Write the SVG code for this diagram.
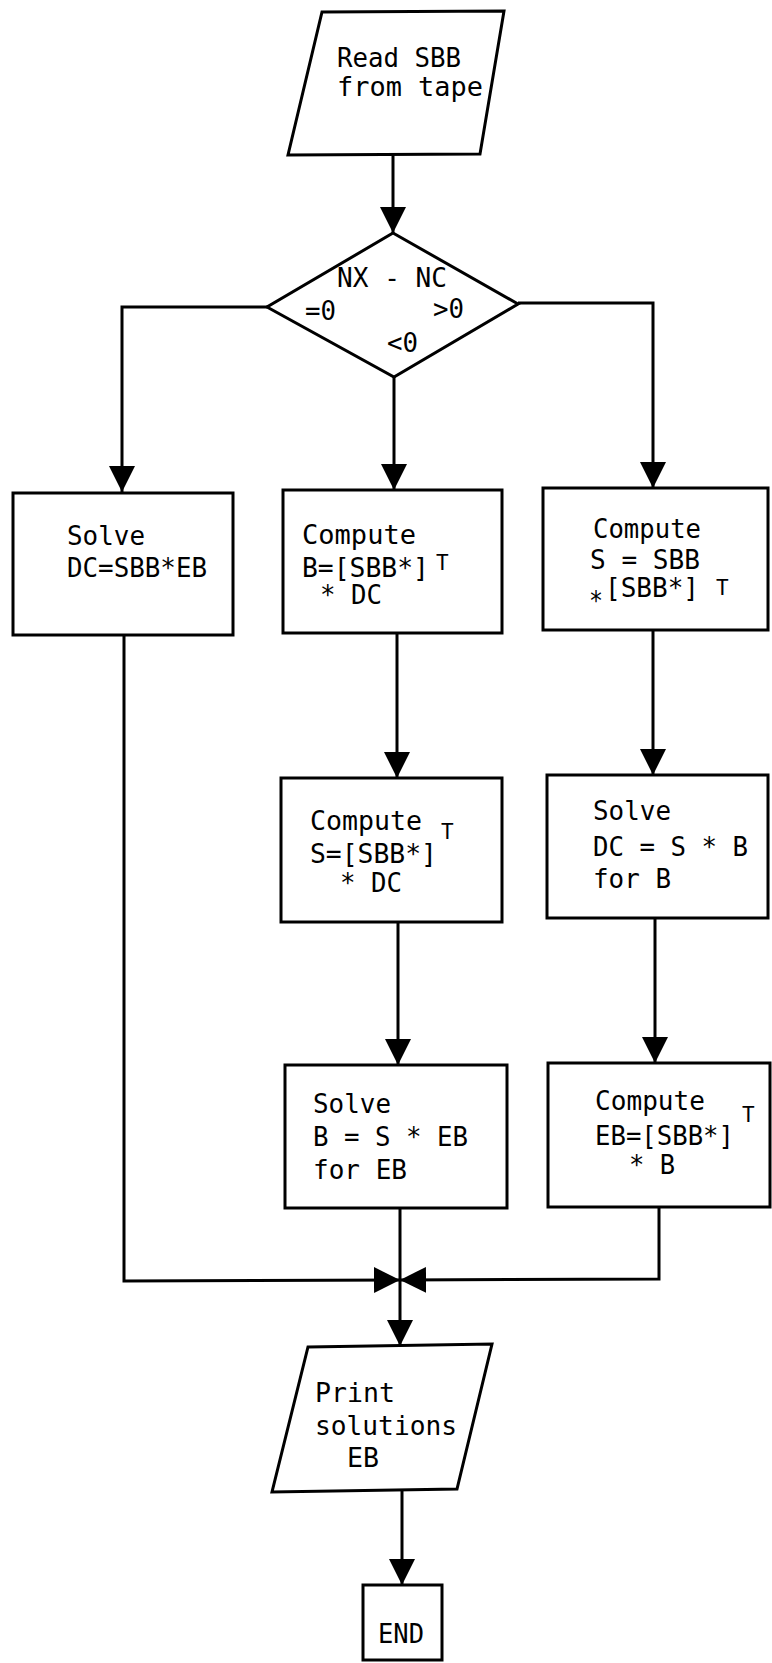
<svg xmlns="http://www.w3.org/2000/svg" width="772" height="1663" viewBox="0 0 772 1663">
<style>
.s{fill:#fff;stroke:#000;stroke-width:3;stroke-linejoin:miter}
.c{fill:none;stroke:#000;stroke-width:3}
text{font-family:"DejaVu Sans Mono","Liberation Mono",monospace;font-size:26px;fill:#000}
.sup{font-size:21px}
</style>
<defs>
<marker id="ah" markerUnits="userSpaceOnUse" markerWidth="28" markerHeight="28" refX="26" refY="13" orient="auto" viewBox="0 0 28 28">
<path d="M0,0 L26,13 L0,26 z" fill="#000"/>
</marker>
</defs>
<rect width="772" height="1663" fill="#fff"/>
<g id="connectors">
<line class="c" x1="393" y1="155" x2="393" y2="233" marker-end="url(#ah)"/>
<polyline class="c" points="267,307 122,307 122,492" marker-end="url(#ah)"/>
<line class="c" x1="394" y1="377" x2="394" y2="490" marker-end="url(#ah)"/>
<polyline class="c" points="518,303 653,303 653,488" marker-end="url(#ah)"/>
<line class="c" x1="397" y1="633" x2="397" y2="778" marker-end="url(#ah)"/>
<line class="c" x1="653" y1="630" x2="653" y2="775" marker-end="url(#ah)"/>
<line class="c" x1="398" y1="922" x2="398" y2="1065" marker-end="url(#ah)"/>
<line class="c" x1="655" y1="918" x2="655" y2="1063" marker-end="url(#ah)"/>
<polyline class="c" points="124,635 124,1281 400,1280" marker-end="url(#ah)"/>
<polyline class="c" points="659,1207 659,1279 400,1280" marker-end="url(#ah)"/>
<line class="c" x1="400" y1="1208" x2="400" y2="1346" marker-end="url(#ah)"/>
<line class="c" x1="402" y1="1490" x2="402" y2="1585" marker-end="url(#ah)"/>
</g>
<g id="read">
<polygon class="s" points="322,12 504,11 480,154 288,155"/>
<text x="337" y="67" textLength="124" lengthAdjust="spacingAndGlyphs">Read SBB</text>
<text x="337" y="96" textLength="146" lengthAdjust="spacingAndGlyphs">from tape</text>
</g>
<g id="decision">
<polygon class="s" points="393,233 518,304 394,377 267,307"/>
<text x="337" y="287" textLength="110" lengthAdjust="spacingAndGlyphs">NX - NC</text>
<text x="305" y="320" textLength="31" lengthAdjust="spacingAndGlyphs">=0</text>
<text x="433" y="318" textLength="31" lengthAdjust="spacingAndGlyphs">&gt;0</text>
<text x="387" y="352" textLength="31" lengthAdjust="spacingAndGlyphs">&lt;0</text>
</g>
<g id="solve-dc">
<rect class="s" x="13" y="493" width="220" height="142"/>
<text x="67" y="545" textLength="78" lengthAdjust="spacingAndGlyphs">Solve</text>
<text x="67" y="577" textLength="140" lengthAdjust="spacingAndGlyphs">DC=SBB*EB</text>
</g>
<g id="compute-b">
<rect class="s" x="283" y="490" width="219" height="143"/>
<text x="302" y="544" textLength="114" lengthAdjust="spacingAndGlyphs">Compute</text>
<text x="302" y="577" textLength="127" lengthAdjust="spacingAndGlyphs">B=[SBB*]</text>
<text class="sup" x="436" y="570">T</text>
<text x="320" y="604" textLength="62" lengthAdjust="spacingAndGlyphs">* DC</text>
</g>
<g id="compute-s1">
<rect class="s" x="543" y="488" width="225" height="142"/>
<text x="593" y="538" textLength="108" lengthAdjust="spacingAndGlyphs">Compute</text>
<text x="590" y="569" textLength="110" lengthAdjust="spacingAndGlyphs">S = SBB</text>
<text x="589" y="610" textLength="14" lengthAdjust="spacingAndGlyphs">*</text>
<text x="605" y="597" textLength="94" lengthAdjust="spacingAndGlyphs">[SBB*]</text>
<text class="sup" x="716" y="595">T</text>
</g>
<g id="compute-s2">
<rect class="s" x="281" y="778" width="221" height="144"/>
<text x="310" y="830" textLength="112" lengthAdjust="spacingAndGlyphs">Compute</text>
<text x="310" y="863" textLength="127" lengthAdjust="spacingAndGlyphs">S=[SBB*]</text>
<text class="sup" x="441" y="839">T</text>
<text x="340" y="892" textLength="62" lengthAdjust="spacingAndGlyphs">* DC</text>
</g>
<g id="solve-b">
<rect class="s" x="547" y="775" width="221" height="143"/>
<text x="593" y="820" textLength="78" lengthAdjust="spacingAndGlyphs">Solve</text>
<text x="593" y="856" textLength="155" lengthAdjust="spacingAndGlyphs">DC = S * B</text>
<text x="593" y="888" textLength="78" lengthAdjust="spacingAndGlyphs">for B</text>
</g>
<g id="solve-eb">
<rect class="s" x="285" y="1065" width="222" height="143"/>
<text x="313" y="1113" textLength="78" lengthAdjust="spacingAndGlyphs">Solve</text>
<text x="313" y="1146" textLength="155" lengthAdjust="spacingAndGlyphs">B = S * EB</text>
<text x="313" y="1179" textLength="94" lengthAdjust="spacingAndGlyphs">for EB</text>
</g>
<g id="compute-eb">
<rect class="s" x="548" y="1063" width="222" height="144"/>
<text x="595" y="1110" textLength="110" lengthAdjust="spacingAndGlyphs">Compute</text>
<text x="595" y="1145" textLength="139" lengthAdjust="spacingAndGlyphs">EB=[SBB*]</text>
<text class="sup" x="742" y="1122">T</text>
<text x="629" y="1174" textLength="46" lengthAdjust="spacingAndGlyphs">* B</text>
</g>
<g id="print">
<polygon class="s" points="308,1347 492,1344 457,1489 272,1492"/>
<text x="315" y="1402" textLength="80" lengthAdjust="spacingAndGlyphs">Print</text>
<text x="315" y="1435" textLength="142" lengthAdjust="spacingAndGlyphs">solutions</text>
<text x="347" y="1467" textLength="32" lengthAdjust="spacingAndGlyphs">EB</text>
</g>
<g id="end">
<rect class="s" x="363" y="1585" width="79" height="75"/>
<text x="378" y="1643" textLength="46" lengthAdjust="spacingAndGlyphs">END</text>
</g>
</svg>
